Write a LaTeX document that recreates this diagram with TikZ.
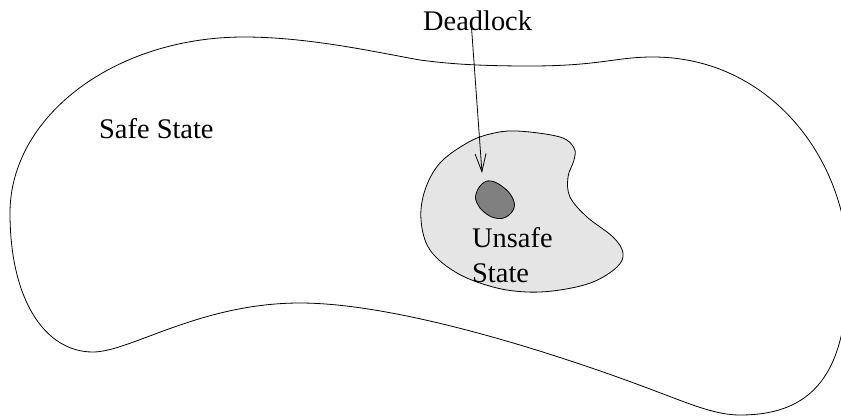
\documentclass[tikz,border=0pt]{standalone}
\usepackage{fontspec}
\setmainfont{Liberation Serif}
\usetikzlibrary{arrows.meta}
\begin{document}
\begin{tikzpicture}[x=1pt,y=-1pt,
  outline/.style={line width=0.8pt,black},
  lbl/.style={inner sep=0pt,anchor=base west,font=\fontsize{28.4}{34}\selectfont}]
\useasboundingbox (0,0) rectangle (841,416);
% outer safe region
\draw[outline] (244,37)
  .. controls (115,37) and (10,116) .. (10,213)
  .. controls (10,300) and (45,352) .. (93,352)
  .. controls (130,352) and (200,303) .. (300,303)
  .. controls (400,303) and (560,355) .. (650,389)
  .. controls (690,404) and (715,415) .. (740,415)
  .. controls (820,415) and (848,365) .. (848,265)
  .. controls (848,160) and (770,57) .. (653,57)
  .. controls (615,57) and (600,66) .. (530,66)
  .. controls (480,66) and (450,64) .. (420,60)
  .. controls (380,53) and (310,37) .. cycle;
% unsafe region
\draw[outline,fill={rgb,255:red,229;green,229;blue,229}] plot[smooth cycle,tension=0.6] coordinates {
(517,131) (560,137) (574,148) (574,160) (568,177) (570,197) (587,217) (613,237)
(623,253) (617,267) (593,282) (560,290) (527,292) (493,287) (457,273) (430,250)
(421,220) (425,190) (440,163) (467,143) (490,134)};
% deadlock
\draw[outline,fill={rgb,255:red,128;green,128;blue,128}] plot[smooth cycle,tension=0.7] coordinates {
(476,194) (482,184) (491,181) (503,187) (512,197) (514,208) (506,217) (495,218) (484,212) (477,203)};
% labels
\node[lbl] (dl) at (423,30) {Deadlock};
\node[lbl] (safe) at (99,138) {Safe State};
\node[lbl] (uns) at (472,247) {Unsafe};
\node[lbl] (st) at (472,282) {State};
\coordinate (tip) at (482,173);
\draw[line width=0.8pt,-{Straight Barb[length=18pt,width=11pt]}] ([xshift=-6pt,yshift=1pt]dl.base) -- (tip);
\end{tikzpicture}
\end{document}
